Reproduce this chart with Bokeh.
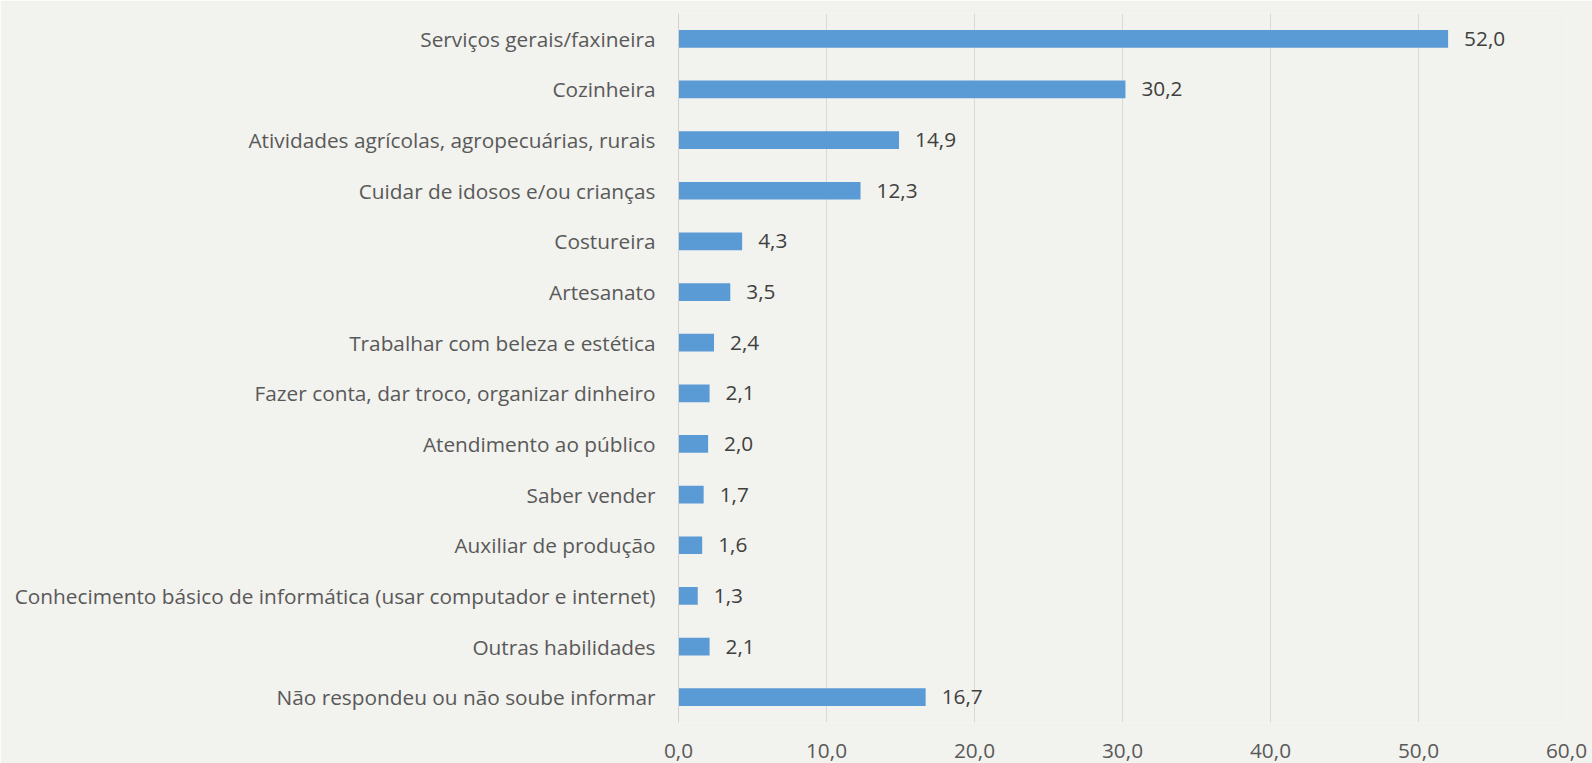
from bokeh.plotting import figure
from bokeh.models import ColumnDataSource, Range1d, FactorRange, FixedTicker, CustomJSTickFormatter
from bokeh.core.properties import value
from bokeh.embed import file_html
from bokeh.resources import INLINE

categories = [
    "Serviços gerais/faxineira",
    "Cozinheira",
    "Atividades agrícolas, agropecuárias, rurais",
    "Cuidar de idosos e/ou crianças",
    "Costureira",
    "Artesanato",
    "Trabalhar com beleza e estética",
    "Fazer conta, dar troco, organizar dinheiro",
    "Atendimento ao público",
    "Saber vender",
    "Auxiliar de produção",
    "Conhecimento básico de informática (usar computador e internet)",
    "Outras habilidades",
    "Não respondeu ou não soube informar",
]
values = [52.0, 30.2, 14.9, 12.3, 4.3, 3.5, 2.4, 2.1, 2.0, 1.7, 1.6, 1.3, 2.1, 16.7]
x_ticks = [0, 10, 20, 30, 40, 50, 60]

FONT = "Open Sans"
BG = "#f2f2ee"

labels = [f"{v:.1f}".replace(".", ",") for v in values]
src = ColumnDataSource(dict(cat=categories, val=values, lab=labels))

p = figure(
    width=1592, height=763,
    y_range=FactorRange(*list(reversed(categories))),
    x_range=Range1d(0, 60),
    output_backend="svg", toolbar_location=None,
    min_border_left=678, min_border_right=26, min_border_top=13, min_border_bottom=41,
    background_fill_color=BG, border_fill_color=BG, outline_line_color=None,
)

p.hbar(y="cat", left=0, right="val", height=0.35, source=src, color="#5b9bd5", line_color=None)
p.text(x="val", y="cat", text="lab", source=src, x_offset=16,
       text_align="left", text_baseline="middle",
       text_font=value(FONT), text_font_size="20.8px", text_color="#404040")

p.xaxis.ticker = FixedTicker(ticks=x_ticks)
p.xaxis.formatter = CustomJSTickFormatter(code="return tick.toFixed(1).replace('.', ',');")
p.xaxis.axis_line_color = None
p.xaxis.major_tick_line_color = None
p.xaxis.minor_tick_line_color = None
p.xaxis.major_label_text_font = FONT
p.xaxis.major_label_text_font_size = "20.8px"
p.xaxis.major_label_text_color = "#595959"
p.xaxis.major_label_standoff = 15

p.yaxis.axis_line_color = "#d0d0d0"
p.yaxis.major_tick_line_color = None
p.yaxis.minor_tick_line_color = None
p.yaxis.major_label_text_font = FONT
p.yaxis.major_label_text_font_size = "20.8px"
p.yaxis.major_label_text_color = "#595959"
p.yaxis.major_label_standoff = 17

p.xgrid.grid_line_color = "#d9d9d9"
p.xgrid.ticker = FixedTicker(ticks=x_ticks)
p.ygrid.grid_line_color = None

open("out.html", "w").write(file_html(p, INLINE))
